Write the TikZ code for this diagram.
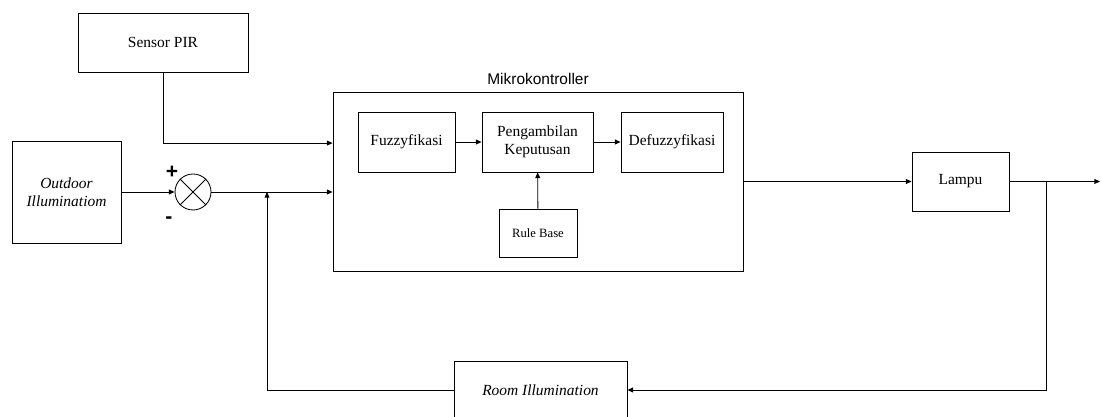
\documentclass[tikz,border=0pt]{standalone}
\usepackage{fontspec}
\setmainfont{Liberation Serif}
\setsansfont{Liberation Sans}
\usetikzlibrary{positioning, arrows.meta, calc}

\begin{document}
\begin{tikzpicture}[
		block/.style={draw, rectangle, align=center, line width=0.6pt,
			font=\fontsize{11}{12.5}\selectfont},
		sumnode/.style={draw, circle, minimum size=0.9cm, inner sep=0pt, line width=0.6pt},
		arrow/.style={-{Triangle[length=1.4mm, width=1.2mm]}, line width=0.6pt},
		line/.style={line width=0.6pt},
		]
		\useasboundingbox (0,0) rectangle (27.525,10.425);
		
		\node[block, minimum width=4.25cm, minimum height=1.475cm] (pir) at (4.075, 9.363) {Sensor PIR};
		\node[block, minimum width=2.725cm, minimum height=2.55cm] (outdoor) at (1.6625, 5.625) {\itshape Outdoor\\ \itshape Illuminatiom};
		\node[sumnode] (sum) at (4.825, 5.625) {};
		\draw[line] (sum.north west) -- (sum.south east);
		\draw[line] (sum.south west) -- (sum.north east);
		\node[font=\sffamily\bfseries\fontsize{15}{15}\selectfont] (plus) at (4.3, 6.125) {+};
		\node[font=\sffamily\bfseries\fontsize{15}{15}\selectfont] (minus) at (4.225, 4.925) {-};
		
		\node[block, minimum width=10.25cm, minimum height=4.475cm,
			label={[font=\sffamily\fontsize{11}{12.5}\selectfont, yshift=0.05cm]above:Mikrokontroller}] (mikro) at (13.45, 5.8875) {};
		\node[block, minimum width=2.425cm, minimum height=1.5cm] (fuzz) at (10.1625, 6.875) {Fuzzyfikasi};
		\node[block, minimum width=2.775cm, minimum height=1.5cm] (infer) at (13.4375, 6.875) {Pengambilan\\Keputusan};
		\node[block, minimum width=2.55cm, minimum height=1.5cm] (defuzz) at (16.8, 6.875) {Defuzzyfikasi};
		\node[block, minimum width=1.95cm, minimum height=1.2cm, font=\fontsize{9}{10}\selectfont] (rule) at (13.45, 4.6) {Rule Base};
		
		\node[block, minimum width=2.425cm, minimum height=1.475cm] (lampu) at (24.0125, 5.8875) {Lampu};
		\node[block, minimum width=4.325cm, minimum height=1.45cm] (room) at (13.5125, 0.675) {\itshape Room Illumination};
		
		\draw[arrow] (fuzz) -- (infer);
		\draw[arrow] (infer) -- (defuzz);
		\draw[arrow] (rule) -- (infer);
		
		% masukan
		\coordinate (pirin) at ($(mikro.west)+(0,0.96)$);
		\draw[arrow] (pir.south) |- (pirin);
		\draw[arrow] (outdoor) -- (sum);
		\draw[arrow] (sum) -- (mikro.west |- sum);
		
		% keluaran
		\draw[arrow] (mikro.east) -- (lampu);
		\coordinate (split) at (26.15, 5.8875);
		\coordinate (out) at (27.5, 5.8875);
		\draw[arrow] (lampu) -- (out);
		\draw[arrow] (split) |- (room.east);
		
		% umpan balik
		\coordinate (fb) at (6.675, 5.625);
		\draw[arrow] (room.west) -| (fb);
		
	\end{tikzpicture}
\end{document}
